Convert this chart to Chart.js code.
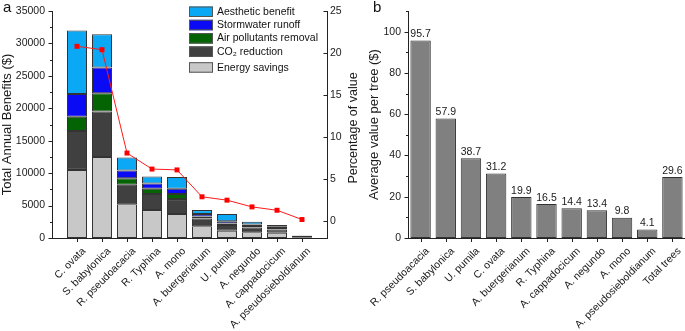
<!DOCTYPE html>
<html>
<head>
<meta charset="utf-8">
<script src="https://cdn.jsdelivr.net/npm/chart.js@4"></script>
<style>
  body { margin: 0; background: #fff; width: 685px; height: 331px; position: relative; overflow: hidden; font-family: "Liberation Sans", Arial, sans-serif; }
  canvas { position: absolute; top: 0; }
  #ca { left: 0; }
  #cb { left: 362px; }
  .tag { position: absolute; top: -2px; font-size: 15px; color: #111; }
</style>
</head>
<body>
<canvas id="ca" width="362" height="331"></canvas>
<canvas id="cb" width="323" height="331"></canvas>
<div class="tag" style="left:3px">a</div>
<div class="tag" style="left:373px">b</div>
<script>
// panel a - annual benefits by species
const speciesA = ['C. ovata', 'S. babylonica', 'R. pseudoacacia', 'R. Typhina', 'A. mono', 'A. buergerianum', 'U. pumila', 'A. negundo', 'A. cappadocicum', 'A. pseudosieboldianum'];
const energySavings = [10500, 12500, 5200, 4300, 3700, 1800, 1100, 900, 800, 50];
const co2Reduction  = [6000, 7000, 3000, 2500, 2300, 1200, 900, 700, 500, 250];
const airPollutants = [2200, 2800, 1000, 800, 800, 300, 250, 250, 250, 30];
const stormwater    = [3500, 4000, 1200, 800, 800, 400, 350, 250, 200, 30];
const aesthetic     = [9800, 5100, 2000, 1100, 1800, 600, 1100, 400, 250, 30];
const percentValue  = [20.8, 20.4, 8.1, 6.2, 6.1, 2.9, 2.5, 1.7, 1.3, 0.2];

// panel b - average value per tree
const speciesB = ['R. pseudoacacia', 'S. babylonica', 'U. pumila', 'C. ovata', 'A. buergerianum', 'R. Typhina', 'A. cappadocicum', 'A. negundo', 'A. mono', 'A. pseudosieboldianum', 'Total trees'];
const avgValue = [95.7, 57.9, 38.7, 31.2, 19.9, 16.5, 14.4, 13.4, 9.8, 4.1, 29.6];

Chart.defaults.font.family = '"Liberation Sans", Arial, sans-serif';
Chart.defaults.font.size = 10.5;
Chart.defaults.color = '#1a1a1a';

const tickFont = { size: 10.5 };
const titleFont = { size: 13 };
const edge = { display: true, color: '#222', width: 1 };

// empty slot at each end so the bars sit one category in from the axes
const pad = arr => [null].concat(arr, [null]);

// short tick marks (major + minor) drawn off the scales
const axisMarks = {
  id: 'axisMarks',
  afterDraw(chart, args, opts) {
    const ctx = chart.ctx, area = chart.chartArea;
    ctx.save();
    ctx.strokeStyle = '#222';
    ctx.lineWidth = 1;
    ctx.beginPath();
    for (const id in opts.axes) {
      const s = chart.scales[id], o = opts.axes[id];
      if (s.isHorizontal()) {
        s.ticks.forEach((t, i) => {
          if (t.label === '') return;
          const x = Math.round(s.getPixelForTick(i)) + 0.5;
          ctx.moveTo(x, area.bottom);
          ctx.lineTo(x, area.bottom + 4);
        });
      } else {
        const x0 = (o.side === 'left' ? Math.round(area.left) : Math.round(area.right)) + 0.5;
        const majors = s.ticks.map(t => t.value);
        majors.forEach(v => {
          const y = Math.round(s.getPixelForValue(v)) + 0.5;
          ctx.moveTo(x0, y);
          ctx.lineTo(x0 + o.dir * 4, y);
        });
        if (o.minorStep) {
          for (let v = s.min; v <= s.max + 1e-9; v += o.minorStep) {
            if (majors.some(m => Math.abs(m - v) < 1e-6)) continue;
            const y = Math.round(s.getPixelForValue(v)) + 0.5;
            ctx.moveTo(x0, y);
            ctx.lineTo(x0 + o.dir * 2.5, y);
          }
        }
      }
    }
    ctx.stroke();
    ctx.restore();
  }
};

// right axis title reads bottom-to-top like the left one
const rightTitle = {
  id: 'rightTitle',
  afterDraw(chart) {
    const ctx = chart.ctx, area = chart.chartArea, s = chart.scales.y1;
    ctx.save();
    ctx.font = '12.5px "Liberation Sans", Arial, sans-serif';
    ctx.fillStyle = '#1a1a1a';
    ctx.textAlign = 'center';
    ctx.textBaseline = 'middle';
    ctx.translate(s.right - 8.5, (area.top + area.bottom) / 2 + 3.5);
    ctx.rotate(-Math.PI / 2);
    ctx.fillText(s.options.title.text, 0, 0);
    ctx.restore();
  }
};

// legend drawn inside the plot area (top right)
const innerLegend = {
  id: 'innerLegend',
  afterDraw(chart) {
    const ctx = chart.ctx, area = chart.chartArea;
    const items = chart.data.datasets.filter(d => d.type !== 'line').slice().reverse();
    const x = area.left + 137;
    let y = area.top - 4.5;
    ctx.save();
    ctx.font = '10.5px "Liberation Sans", Arial, sans-serif';
    ctx.textBaseline = 'middle';
    items.forEach((d, i) => {
      if (i === items.length - 1) y += 2.5;
      ctx.fillStyle = d.backgroundColor;
      ctx.fillRect(x, y, 24, 10.5);
      ctx.strokeStyle = '#555';
      ctx.lineWidth = 1;
      ctx.strokeRect(x + 0.5, y + 0.5, 23, 9.5);
      ctx.fillStyle = '#111';
      ctx.fillText(d.label, x + 28, y + 5.5);
      y += 13.3;
    });
    ctx.restore();
  }
};

// value above each bar in panel b
const barValues = {
  id: 'barValues',
  afterDatasetsDraw(chart) {
    const ctx = chart.ctx;
    const meta = chart.getDatasetMeta(0);
    const data = chart.data.datasets[0].data;
    ctx.save();
    ctx.font = '10.5px "Liberation Sans", Arial, sans-serif';
    ctx.fillStyle = '#1a1a1a';
    ctx.textAlign = 'center';
    ctx.textBaseline = 'bottom';
    meta.data.forEach((bar, i) => {
      ctx.fillText(data[i].toFixed(1), bar.x, bar.y - 1);
    });
    ctx.restore();
  }
};

function fixHeight(h) {
  return s => { s.height = h; s.paddingLeft = 0; s.paddingRight = 0; };
}
function fixWidth(w) {
  return s => { s.width = w; s.paddingTop = 0; s.paddingBottom = 0; };
}

function barSet(label, data, color) {
  return {
    type: 'bar', label: label, data: pad(data), yAxisID: 'y',
    backgroundColor: color, borderColor: '#333', borderWidth: 1, borderSkipped: false,
    barPercentage: 0.8, categoryPercentage: 1, order: 2
  };
}

const xTicks = { font: tickFont, autoSkip: false, minRotation: 45, maxRotation: 45, padding: 7, labelOffset: 7 };

new Chart(document.getElementById('ca'), {
  data: {
    labels: pad(speciesA).map(s => s || ''),
    datasets: [
      barSet('Energy savings', energySavings, '#c8c8c8'),
      barSet('CO\u2082 reduction', co2Reduction, '#404040'),
      barSet('Air pollutants removal', airPollutants, '#046404'),
      barSet('Stormwater runoff', stormwater, '#0a0af5'),
      barSet('Aesthetic benefit', aesthetic, '#0aa8f5'),
      {
        type: 'line', label: 'Percentage of value', data: pad(percentValue), yAxisID: 'y1',
        borderColor: '#ff1a1a', borderWidth: 1, backgroundColor: '#ff0000',
        pointStyle: 'rect', pointRadius: 3.5, pointBorderWidth: 0, order: 0
      }
    ]
  },
  options: {
    responsive: false,
    devicePixelRatio: 1,
    animation: false,
    layout: { padding: { top: 11, right: 0, bottom: 0, left: 0 } },
    plugins: {
      legend: { display: false },
      tooltip: { enabled: false },
      axisMarks: { axes: { x: {}, y: { side: 'left', dir: -1, minorStep: 2500 }, y1: { side: 'right', dir: -1 } } }
    },
    scales: {
      x: {
        stacked: true, offset: false,
        grid: { display: false, drawTicks: false }, border: edge,
        ticks: xTicks,
        afterFit: fixHeight(93)
      },
      y: {
        stacked: true, position: 'left', min: 0, max: 35000,
        grid: { display: false, drawTicks: false }, border: edge,
        ticks: { font: tickFont, stepSize: 5000, padding: 7, callback: v => String(v) },
        title: { display: true, text: 'Total Annual Benefits ($)', font: titleFont, padding: { top: 0, bottom: 0 } },
        afterFit: fixWidth(52)
      },
      y1: {
        position: 'right', min: -2, max: 25,
        grid: { display: false, drawTicks: false }, border: edge,
        ticks: { font: tickFont, stepSize: 5, padding: 3, includeBounds: false, callback: v => String(v) },
        title: { display: false, text: 'Percentage of value' },
        afterFit: fixWidth(35)
      }
    }
  },
  plugins: [axisMarks, innerLegend, rightTitle]
});

new Chart(document.getElementById('cb'), {
  type: 'bar',
  data: {
    labels: speciesB,
    datasets: [{
      label: 'Average value per tree ($)', data: avgValue,
      backgroundColor: '#808080', borderColor: '#333', borderWidth: 1, borderSkipped: false,
      barPercentage: 0.81, categoryPercentage: 1
    }]
  },
  options: {
    responsive: false,
    devicePixelRatio: 1,
    animation: false,
    layout: { padding: { top: 11, right: 0, bottom: 0, left: 5 } },
    plugins: {
      legend: { display: false },
      tooltip: { enabled: false },
      axisMarks: { axes: { x: {}, y: { side: 'left', dir: -1, minorStep: 10 } } }
    },
    scales: {
      x: {
        grid: { display: false, drawTicks: false }, border: edge,
        ticks: xTicks,
        afterFit: fixHeight(93)
      },
      y: {
        min: 0, max: 110,
        grid: { display: false, drawTicks: false }, border: edge,
        ticks: { font: tickFont, stepSize: 20, padding: 7, includeBounds: false },
        title: { display: true, text: 'Average value per tree ($)', font: titleFont, padding: { top: 0, bottom: 0 } },
        afterFit: fixWidth(41)
      }
    }
  },
  plugins: [axisMarks, barValues]
});
</script>
</body>
</html>
